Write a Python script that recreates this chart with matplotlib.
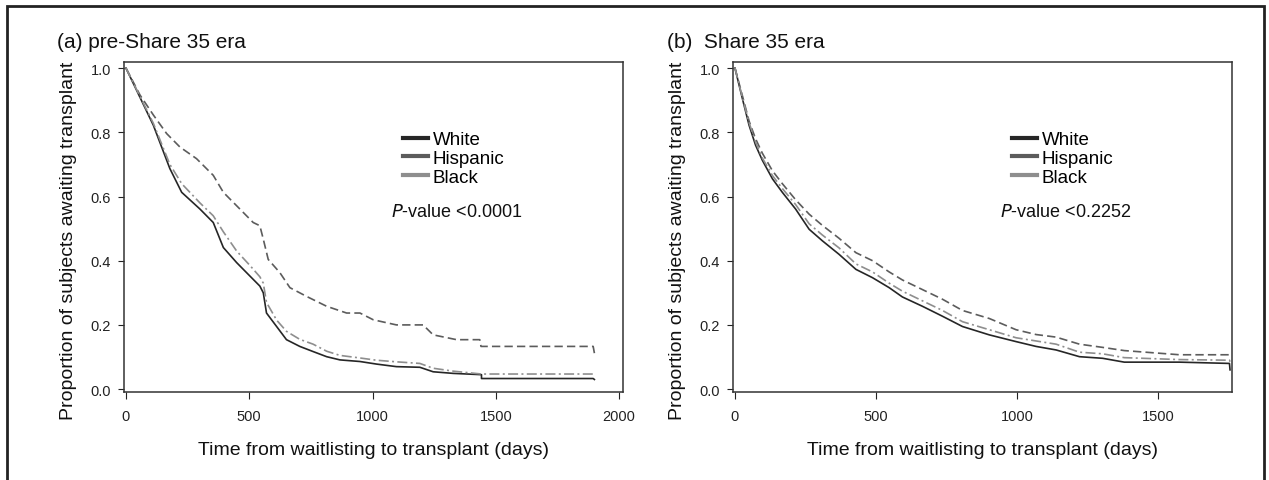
import matplotlib.pyplot as plt
from matplotlib.patches import Rectangle

plt.rcParams['font.family'] = ['Liberation Sans', 'DejaVu Sans']

groups = ['White', 'Hispanic', 'Black']
colors = ['#262626', '#5c5c5c', '#8e8e8e']
styles = ['-', (0, (5, 2.5)), (0, (6, 2, 1.2, 2))]

# (a) pre-Share 35 era
days_a = [0, 111, 178, 226, 300, 354, 395, 449, 503, 543, 557, 570, 611, 651, 705,
          759, 814, 868, 949, 1016, 1097, 1192, 1246, 1327, 1442, 1442, 1895, 1900]
white_a = [1.0, 0.822, 0.687, 0.613, 0.561, 0.519, 0.441, 0.394, 0.352, 0.321, 0.300,
           0.237, 0.195, 0.154, 0.133, 0.117, 0.101, 0.091, 0.086, 0.078, 0.070, 0.068,
           0.054, 0.049, 0.045, 0.033, 0.033, 0.030]

days_a_h = [0, 57, 111, 165, 219, 286, 354, 395, 462, 516, 543, 557, 577, 624, 665, 732,
            814, 895, 949, 1003, 1097, 1205, 1246, 1341, 1435, 1440, 1895, 1900]
hisp_a = [1.0, 0.916, 0.854, 0.796, 0.754, 0.718, 0.666, 0.613, 0.561, 0.519, 0.509,
          0.467, 0.404, 0.363, 0.316, 0.289, 0.258, 0.237, 0.237, 0.216, 0.200, 0.200,
          0.169, 0.154, 0.154, 0.133, 0.133, 0.112]

days_a_b = [0, 111, 178, 226, 300, 354, 395, 449, 503, 543, 557, 570, 611, 651, 705,
            759, 814, 868, 949, 1016, 1097, 1192, 1246, 1327, 1442, 1895]
black_a = [1.0, 0.828, 0.70, 0.64, 0.58, 0.54, 0.49, 0.43, 0.385, 0.35, 0.33, 0.27,
           0.215, 0.18, 0.155, 0.14, 0.118, 0.105, 0.097, 0.090, 0.085, 0.080, 0.065,
           0.056, 0.047, 0.047]

# (b) Share 35 era
days_b = [0, 26, 50, 73, 97, 133, 168, 215, 263, 310, 369, 429, 488, 547, 594, 665,
          736, 807, 902, 997, 1068, 1139, 1222, 1304, 1381, 1577, 1754, 1756]
white_b = [1.0, 0.906, 0.822, 0.760, 0.713, 0.655, 0.613, 0.561, 0.498, 0.462, 0.420,
           0.373, 0.347, 0.316, 0.287, 0.258, 0.227, 0.195, 0.169, 0.148, 0.133, 0.122,
           0.101, 0.096, 0.084, 0.084, 0.080, 0.060]
hisp_b = [1.0, 0.915, 0.835, 0.78, 0.735, 0.68, 0.64, 0.59, 0.545, 0.51, 0.47, 0.425,
          0.400, 0.365, 0.34, 0.31, 0.28, 0.245, 0.22, 0.185, 0.17, 0.162, 0.140, 0.130,
          0.120, 0.107, 0.107, 0.100]
black_b = [1.0, 0.91, 0.83, 0.77, 0.72, 0.665, 0.625, 0.575, 0.515, 0.48, 0.44, 0.39,
           0.365, 0.33, 0.305, 0.275, 0.245, 0.21, 0.185, 0.16, 0.15, 0.14, 0.115, 0.11,
           0.098, 0.092, 0.090, 0.085]

panels = [
    ('(a) pre-Share 35 era', [(days_a, white_a), (days_a_h, hisp_a), (days_a_b, black_a)],
     [0, 500, 1000, 1500, 2000], (-8, 2016), '<0.0001'),
    ('(b)  Share 35 era', [(days_b, white_b), (days_b, hisp_b), (days_b, black_b)],
     [0, 500, 1000, 1500], (-7, 1763), '<0.2252'),
]

W, H = 1269, 481
fig = plt.figure(figsize=(W / 100, H / 100), dpi=100)
fig.add_artist(Rectangle((7 / W, -0.1), 1257 / W, 1.1 - 7 / H, transform=fig.transFigure,
                         fill=False, edgecolor='#222222', linewidth=2))

axes_left = [124, 733]
title_x = [57, 667]
for i, (title, series, xt, xl, pval) in enumerate(panels):
    ax = fig.add_axes([axes_left[i] / W, 88 / H, 499 / W, 330 / H])
    for (x, y), c, ls in zip(series, colors, styles):
        ax.plot(x, y, color=c, linestyle=ls, linewidth=1.2)
    ax.set_xlim(*xl)
    ax.set_ylim(-0.009, 1.019)
    ax.set_xticks(xt)
    ax.set_yticks([0.0, 0.2, 0.4, 0.6, 0.8, 1.0])
    ax.set_yticklabels(['0.0', '0.2', '0.4', '0.6', '0.8', '1.0'])
    ax.tick_params(axis='x', length=5, width=0.8, pad=7, labelsize=10.5, colors='#222222')
    ax.tick_params(axis='y', length=4.5, width=0.8, pad=5, labelsize=10.5, colors='#222222')
    for s in ax.spines.values():
        s.set_color('#333333')
        s.set_linewidth(1.1)
    ax.set_xlabel('Time from waitlisting to transplant (days)', fontsize=14, color='#111111')
    ax.xaxis.set_label_coords(0.5, -0.15)
    ax.set_ylabel('Proportion of subjects awaiting transplant', fontsize=14, color='#111111')
    ax.yaxis.set_label_coords(-0.095, 0.46)

    handles = [plt.Line2D([], [], color=c, linewidth=3) for c in colors]
    ax.legend(handles, groups, loc='upper left', bbox_to_anchor=(0.56, 0.79), frameon=False,
              fontsize=13.5, handlelength=1.3, handletextpad=0.25, labelspacing=0.08,
              borderpad=0, borderaxespad=0)
    ax.text(0.535, 0.548, '$\\mathit{P}$-value ' + pval, transform=ax.transAxes,
            fontsize=13, va='center', ha='left', color='#111111')

    fig.text(title_x[i] / W, 1 - 43 / H, title, fontsize=15, va='center', ha='left',
             color='#111111')

fig.savefig('out.png', dpi=100)
